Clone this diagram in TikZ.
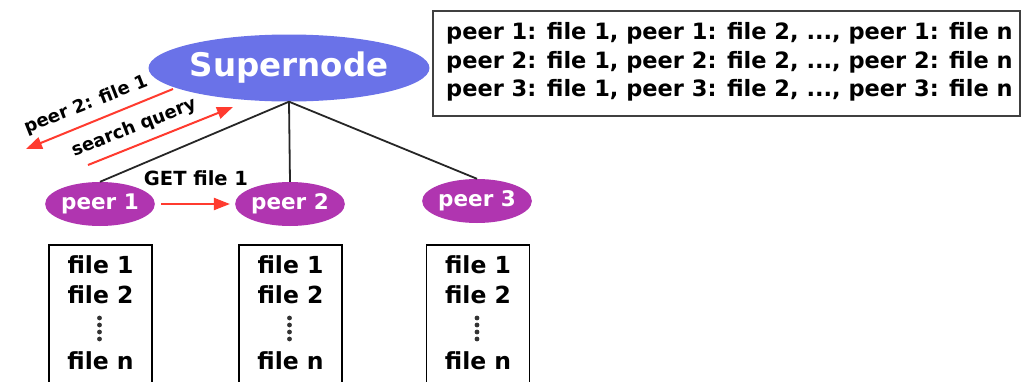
\documentclass[tikz,border=0pt]{standalone}
\usepackage{fontspec}
\setmainfont{DejaVu Sans}
\usetikzlibrary{arrows.meta,positioning,shapes.geometric}

\definecolor{superblue}{RGB}{106,114,232}
\definecolor{peerpurple}{RGB}{176,53,176}
\definecolor{arrowred}{RGB}{255,59,47}

\begin{document}
\begin{tikzpicture}[x=1pt,y=-1pt,
    peer/.style={ellipse,fill=peerpurple,text=white,inner sep=0pt,
      minimum width=102,minimum height=44,font=\bfseries\fontsize{21.5}{24}\selectfont},
    filebox/.style={draw=black,line width=1.6pt,minimum width=103,minimum height=150,anchor=north},
    fileline/.style={font=\bfseries\fontsize{23.5}{26}\selectfont,inner sep=0pt},
    redarrow/.style={draw=arrowred,line width=2pt,-{Triangle[length=16pt,width=12pt]}},
    slanted/.style={font=\bfseries\fontsize{18}{20}\selectfont,rotate=21.5,inner sep=0pt}]
        \path[use as bounding box] (0,0) rectangle (1021,381);
        \fill[white] (0,0) rectangle (1021,381);
        \clip (0,0) rectangle (1021,381);

        % supernode and its table
        \node[ellipse,fill=superblue,text=white,inner sep=0pt,minimum width=261,minimum height=67,
          font=\bfseries\fontsize{32.5}{36}\selectfont] (sn) at (289,68) {Supernode};
        \node[draw=black!75,line width=1.8pt,anchor=north west,minimum width=587,minimum height=105,
          inner sep=0pt] (index) at (432,10) {};
        \node[anchor=west,align=left,inner sep=0pt,font=\bfseries\fontsize{22.5}{28.5}\selectfont] (indextxt) at (446,62)
          {peer 1: file 1, peer 1: file 2, ..., peer 1: file n\\
           peer 2: file 1, peer 2: file 2, ..., peer 2: file n\\
           peer 3: file 1, peer 3: file 2, ..., peer 3: file n};

        % peers
        \node[peer] (p1) at (100,204) {peer 1};
        \node[peer] (p2) at (290,204) {peer 2};
        \node[peer] (p3) at (477,201) {peer 3};
        \draw[line width=1.8pt,black!85] (sn.south) -- (p1.north);
        \draw[line width=1.8pt,black!85] (sn.south) -- (p2.north);
        \draw[line width=1.8pt,black!85] (sn.south) -- (p3.north);

        % download
        \node[font=\bfseries\fontsize{19.5}{22}\selectfont,inner sep=0pt] (get) at (196,178) {GET file 1};
        \draw[redarrow,shorten <=6pt,shorten >=5pt] (p1.east) -- (p2.west);

        % query and answer
        \coordinate (ansfrom) at (173,89);
        \coordinate (ansto) at (26,149);
        \coordinate (qfrom) at (88,165);
        \coordinate (qto) at (233,107);
        \draw[redarrow] (ansfrom) -- (ansto);
        \draw[redarrow] (qfrom) -- (qto);
        \node[slanted] (anslbl) at (86,105) {peer 2: file 1};
        \node[slanted] (qlbl) at (134,128) {search query};

        % file lists
        \foreach \i/\xx in {1/100.5,2/290.5,3/478}{
          \node[filebox] (box\i) at (\xx,244) {};
          \node[fileline] (f\i a) at (\xx,265) {file 1};
          \node[fileline] (f\i b) at (\xx,295) {file 2};
          \node[fileline] (f\i n) at (\xx,361) {file n};
          \foreach \yy in {318,325,332,339}
            \fill[black!80] (\xx-1,\yy) circle (2.4pt);
        }
\end{tikzpicture}
\end{document}
